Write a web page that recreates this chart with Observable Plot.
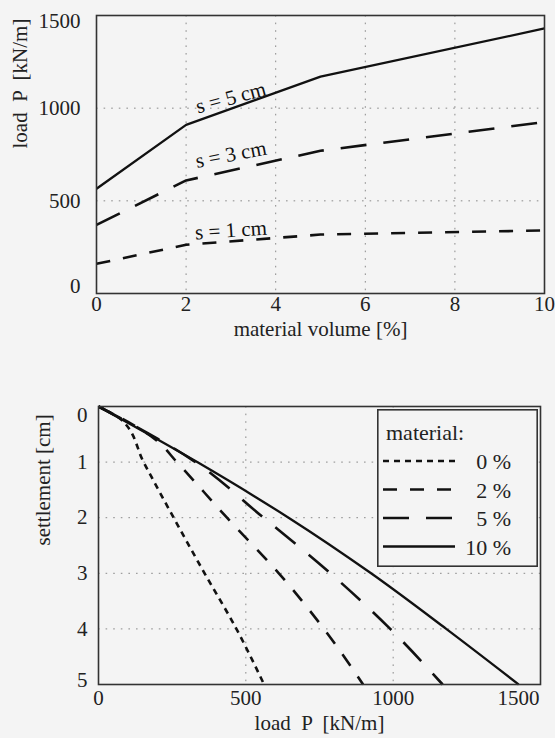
<!DOCTYPE html>
<html><head><meta charset="utf-8">
<script src="https://cdn.jsdelivr.net/npm/d3@7"></script>
<script src="https://cdn.jsdelivr.net/npm/@observablehq/plot@0.6"></script>
<style>
html,body{margin:0;padding:0;background:#f4f4f4;}
#wrap{position:relative;width:555px;height:738px;background:#f4f4f4;overflow:hidden;}
#wrap svg{display:block;}
#legend{position:absolute;left:377px;top:409px;}
</style></head><body><div id="wrap"></div>
<script>
// ---- top chart: load at given settlement vs material volume ----
const volume = [0, 2, 5, 10];
const load_s1 = [160, 263, 318, 340];
const load_s3 = [370, 610, 770, 925];
const load_s5 = [565, 910, 1170, 1430];
const volumeTicks = [0, 2, 4, 6, 8, 10];
const loadTicksTop = [0, 500, 1000, 1500];
const curveLabels = ["s = 1 cm", "s = 3 cm", "s = 5 cm"];

// ---- bottom chart: settlement vs load for each material content ----
const settle_0 = [0, 0.25, 1, 2, 3, 4, 5];
const load_0 = [0, 80, 153, 255, 360, 468, 562];
const settle_2 = [0, 0.6, 1, 2, 3, 4, 5];
const load_2 = [0, 195, 266, 436, 612, 765, 898];
const settle_5 = [0, 0.95, 2, 3, 4, 5];
const load_5 = [0, 315, 560, 787, 990, 1168];
const settle_10 = [0, 1, 2, 3, 4, 5];
const load_10 = [0, 335, 645, 925, 1180, 1426];
const loadTicksBottom = [0, 500, 1000, 1500];
const settleTicks = [0, 1, 2, 3, 4, 5];
const materialLabels = ["0 %", "2 %", "5 %", "10 %"];
const legendTitle = "material:";

const FONT = '"Liberation Serif", "Times New Roman", serif';
const FS = 21;
const INK = "#111";
const TXT = "#222";
const GRID = {stroke: "#8a8a8a", strokeOpacity: 1, strokeDasharray: "1.6,6"};
const dashes = {d0: "6,5", d2: "14,13", d5: "26,17", d10: null};
const fmt = d => String(d);

function zipXY(xs, ys, extra) { return xs.map((x, i) => ({x, y: ys[i], ...extra})); }
function interp(xs, ys, x) {
  for (let i = 0; i < xs.length - 1; i++) {
    if (x >= xs[i] && x <= xs[i + 1]) return ys[i] + (ys[i + 1] - ys[i]) * (x - xs[i]) / (xs[i + 1] - xs[i]);
  }
  return ys[ys.length - 1];
}

const wrap = document.getElementById("wrap");

// ===== TOP CHART =====
const topLines = [
  {ys: load_s1, dash: dashes.d2, w: 2.6},
  {ys: load_s3, dash: dashes.d5, w: 2.6},
  {ys: load_s5, dash: null, w: 2.3}
];
const labelX = 3;
const labelSpec = [
  {ys: load_s1, rotate: -4, dy: -11},
  {ys: load_s3, rotate: -11, dy: -16},
  {ys: load_s5, rotate: -15, dy: -11}
];
const tickOpt = {tickSize: 0, fontSize: FS, fill: TXT, tickFormat: fmt};

const topPlot = Plot.plot({
  width: 555, height: 345,
  marginTop: 15, marginLeft: 96, marginRight: 11, marginBottom: 52,
  style: {background: "transparent", fontFamily: FONT, fontSize: FS + "px", color: TXT},
  x: {domain: [0, 10], label: null},
  y: {domain: [0, 1500], label: null},
  marks: [
    Plot.gridX(volumeTicks.slice(1, -1), GRID),
    Plot.gridY(loadTicksTop.slice(1, -1), GRID),
    Plot.axisX(volumeTicks, {...tickOpt, tickPadding: 3}),
    Plot.axisY(loadTicksTop.slice(1, -1), {...tickOpt, tickPadding: 16}),
    Plot.axisY([loadTicksTop[0]], {...tickOpt, tickPadding: 16, dy: -7}),
    Plot.axisY([loadTicksTop[3]], {...tickOpt, tickPadding: 16, dy: 6}),
    ...topLines.map(l => Plot.line(zipXY(volume, l.ys), {
      x: "x", y: "y", stroke: INK, strokeWidth: l.w, strokeDasharray: l.dash, strokeLinecap: "butt"
    })),
    ...labelSpec.map((l, i) => Plot.text([{x: labelX, y: interp(volume, l.ys, labelX), t: curveLabels[i]}], {
      x: "x", y: "y", text: "t", rotate: l.rotate, dy: l.dy, fontSize: FS, fill: INK
    })),
    Plot.text(["material volume [%]"], {frameAnchor: "bottom", dy: 42, fontSize: FS, fill: TXT}),
    Plot.text(["load  P  [kN/m]"], {frameAnchor: "left", dx: -76, dy: -6, rotate: -90, fontSize: FS, fill: TXT}),
    Plot.frame({stroke: "#333", strokeWidth: 1.6})
  ]
});
wrap.appendChild(topPlot);

// ===== BOTTOM CHART =====
const bottomSeries = [
  {s: settle_0, p: load_0, dash: dashes.d0, w: 2.6},
  {s: settle_2, p: load_2, dash: dashes.d2, w: 2.6},
  {s: settle_5, p: load_5, dash: dashes.d5, w: 2.6},
  {s: settle_10, p: load_10, dash: dashes.d10, w: 2.3}
];

const bottomPlot = Plot.plot({
  width: 555, height: 393,
  marginTop: 61, marginLeft: 98, marginRight: 15, marginBottom: 54,
  style: {background: "transparent", fontFamily: FONT, fontSize: FS + "px", color: TXT},
  x: {domain: [0, 1500], label: null},
  y: {domain: [0, 5], reverse: true, label: null},
  marks: [
    Plot.gridX(loadTicksBottom.slice(1, -1), GRID),
    Plot.gridY(settleTicks.slice(1, -1), GRID),
    Plot.axisX(loadTicksBottom.slice(0, -1), {...tickOpt, tickPadding: 6}),
    Plot.axisX([loadTicksBottom[3]], {...tickOpt, tickPadding: 6, dx: -22}),
    Plot.axisY(settleTicks.slice(1, -1), {...tickOpt, tickPadding: 11}),
    Plot.axisY([settleTicks[0]], {...tickOpt, tickPadding: 11, dy: 9}),
    Plot.axisY([settleTicks[5]], {...tickOpt, tickPadding: 11, dy: -4}),
    ...bottomSeries.map(l => Plot.line(zipXY(l.p, l.s), {
      x: "x", y: "y", stroke: INK, strokeWidth: l.w, strokeDasharray: l.dash, strokeLinecap: "butt", curve: "monotone-y"
    })),
    Plot.text(["load  P  [kN/m]"], {frameAnchor: "bottom", dy: 45, fontSize: FS, fill: TXT}),
    Plot.text(["settlement [cm]"], {frameAnchor: "left", dx: -55, rotate: -90, fontSize: FS, fill: TXT}),
    Plot.frame({stroke: "#333", strokeWidth: 1.6})
  ]
});
wrap.appendChild(bottomPlot);

// ===== LEGEND (inside bottom chart, top-right) =====
const LW = 161, LH = 158;
const leg = d3.select(wrap).append("svg").attr("id", "legend")
  .attr("width", LW).attr("height", LH)
  .style("font-family", FONT).style("font-size", (FS + 1) + "px");
leg.append("rect").attr("x", 0.8).attr("y", 0.8).attr("width", LW - 1.6).attr("height", LH - 1.6)
  .attr("fill", "#f4f4f4").attr("stroke", "#333").attr("stroke-width", 1.6);
leg.append("text").attr("x", 9).attr("y", 31).attr("fill", TXT).text(legendTitle);
bottomSeries.forEach((l, i) => {
  const y = 52 + i * 28.5;
  leg.append("line").attr("x1", 6).attr("x2", 78).attr("y1", y).attr("y2", y)
    .attr("stroke", INK).attr("stroke-width", l.w)
    .attr("stroke-dasharray", l.dash).attr("stroke-linecap", "butt");
  leg.append("text").attr("x", 134).attr("y", y + 8).attr("text-anchor", "end")
    .attr("fill", TXT).text(materialLabels[i]);
});
</script>
</body></html>
